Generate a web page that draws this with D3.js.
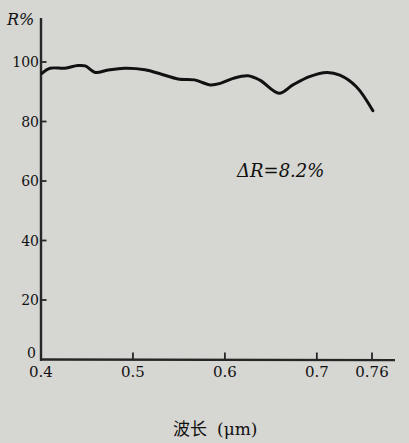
<!DOCTYPE html>
<html>
<head>
<meta charset="utf-8">
<script src="https://cdn.jsdelivr.net/npm/d3@7"></script>
</head>
<body style="margin:0">
<div id="viz"></div>
<script>
var w = 409, h = 443;

// wavelength (um) and reflectance (%)
var wavelength = [0.401, 0.410, 0.426, 0.440, 0.448, 0.459, 0.473, 0.491, 0.513, 0.531,
                  0.549, 0.567, 0.573, 0.584, 0.595, 0.609, 0.625, 0.638, 0.659, 0.674,
                  0.692, 0.711, 0.725, 0.743, 0.761];
var reflect = [96.2, 97.9, 97.9, 98.8, 98.7, 96.5, 97.3, 97.9, 97.4, 95.9,
               94.3, 94.0, 93.4, 92.3, 92.8, 94.5, 95.4, 93.9, 89.5, 92.3,
               95.1, 96.5, 95.6, 91.7, 83.6];
var xTicks = [0.4, 0.5, 0.6, 0.7, 0.76];
var yTicks = [0, 20, 40, 60, 80, 100];

var xs = d3.scaleLinear().domain([0.4, 0.76]).range([41, 372]);
var ys = d3.scaleLinear().domain([0, 100]).range([359.5, 62]);

var svg = d3.select("#viz")
    .append("svg")
    .attr("width", w)
    .attr("height", h);

svg.append("rect")
    .attr("width", w)
    .attr("height", h)
    .attr("fill", "#d6d6d2");

// axes as thin filled polygons
var axes = svg.append("g")
    .attr("fill", "#262626")
    .attr("stroke", "none");

axes.append("polygon")
    .attr("points", [[40, ys(0) - 1.2], [395, ys(0) - 0.6], [395, ys(0) + 1.8], [40, ys(0) + 1.2]].join(" "));
axes.append("polygon")
    .attr("points", [[39.8, 18], [42.2, 18], [42.2, ys(0) + 1.2], [39.8, ys(0) + 1.2]].join(" "));

axes.selectAll(".xtick")
    .data(xTicks.filter(function(d) { return d !== 0.4; }))
    .enter()
    .append("polygon")
    .attr("class", "xtick")
    .attr("points", function(d) {
        var px = xs(d), py = ys(0);
        return [[px - 0.9, py], [px + 0.9, py], [px + 0.9, py - 7], [px - 0.9, py - 7]].join(" ");
    });

axes.selectAll(".ytick")
    .data(yTicks.filter(function(d) { return d !== 0; }))
    .enter()
    .append("polygon")
    .attr("class", "ytick")
    .attr("points", function(d) {
        var py = ys(d);
        return [[41, py - 0.9], [46.5, py - 0.9], [46.5, py + 0.9], [41, py + 0.9]].join(" ");
    });

// reflectance curve
var line = d3.line()
    .x(function(d, i) { return xs(wavelength[i]); })
    .y(function(d) { return ys(d); })
    .curve(d3.curveCatmullRom.alpha(0.5));

svg.append("path")
    .datum(reflect)
    .attr("d", line)
    .attr("fill", "none")
    .attr("stroke", "#111")
    .attr("stroke-width", 3)
    .attr("stroke-linejoin", "round")
    .attr("stroke-linecap", "round");

// tick labels
svg.selectAll(".xlabel")
    .data(xTicks)
    .enter()
    .append("text")
    .attr("class", "xlabel")
    .attr("x", function(d) { return xs(d); })
    .attr("y", ys(0) + 17)
    .attr("text-anchor", "middle")
    .style("font-family", "DejaVu Serif, serif")
    .style("font-size", "15px")
    .attr("fill", "#111")
    .text(function(d) { return d === 0.76 ? "0.76" : d3.format(".1f")(d); });

svg.selectAll(".ylabel")
    .data(yTicks)
    .enter()
    .append("text")
    .attr("class", "ylabel")
    .attr("x", function(d) { return d === 0 ? 36 : 39; })
    .attr("y", function(d) { return d === 0 ? ys(d) - 1.5 : ys(d); })
    .attr("dy", function(d) { return d === 0 ? null : "0.36em"; })
    .attr("text-anchor", "end")
    .style("font-family", "DejaVu Serif, serif")
    .style("font-size", "14px")
    .attr("fill", "#111")
    .text(function(d) { return d; });

// labels
svg.append("text")
    .attr("x", 7).attr("y", 25)
    .style("font-family", "DejaVu Serif, serif")
    .style("font-style", "italic")
    .style("font-size", "16px")
    .attr("fill", "#111")
    .text("R%");

svg.append("text")
    .attr("x", 237).attr("y", 177)
    .style("font-family", "DejaVu Serif, serif")
    .style("font-style", "italic")
    .style("font-size", "18px")
    .attr("fill", "#111")
    .text("ΔR=8.2%");

var title = svg.append("text")
    .attr("x", 173).attr("y", 435)
    .attr("fill", "#111")
    .style("font-size", "17px");
title.append("tspan")
    .style("font-family", "Noto Sans CJK SC, sans-serif")
    .text("波长");
title.append("tspan")
    .attr("dx", 10)
    .style("font-family", "DejaVu Serif, serif")
    .text("(μm)");
</script>
</body>
</html>
